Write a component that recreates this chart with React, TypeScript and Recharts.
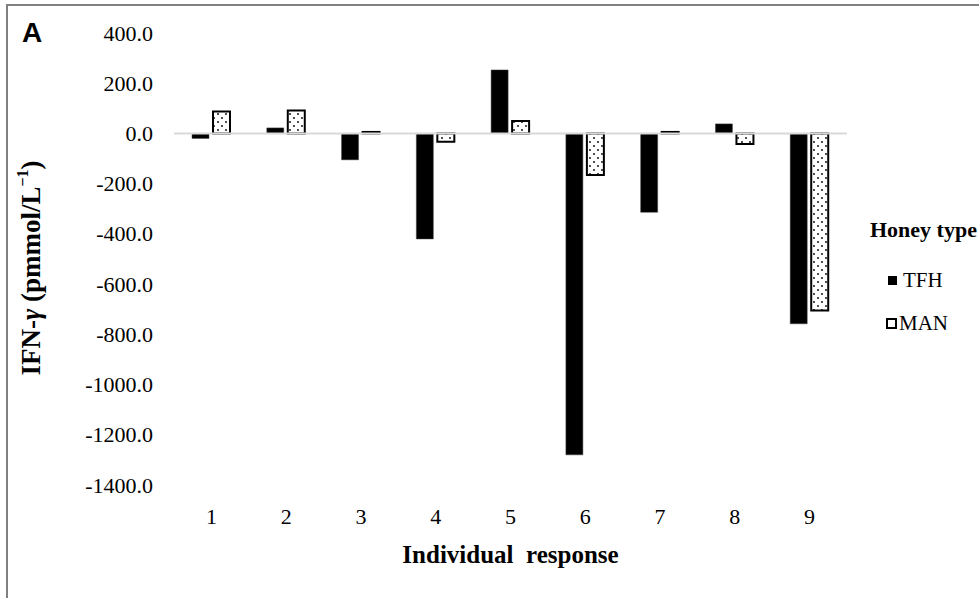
import { BarChart, Bar, XAxis, YAxis, ReferenceLine, Label } from 'recharts';

// Individual responses (participant 1..9), IFN-γ change per honey type
const participants = ['1', '2', '3', '4', '5', '6', '7', '8', '9'];
const tfhValues = [-20, 22, -105, -420, 253, -1280, -314, 38, -758];
const manValues = [87, 91, 6, -33, 50, -165, 6, -42, -705];
const yTicks = [400, 200, 0, -200, -400, -600, -800, -1000, -1200, -1400];

const SERIF = '"Liberation Serif", "Times New Roman", serif';

const data = participants.map((p, i) => ({ p, TFH: tfhValues[i], MAN: manValues[i] }));

// tick renderers so the serif font is really applied
function YTick({ x, y, payload }: any) {
  return (
    <text x={x} y={y} textAnchor="end" dominantBaseline="central" fontFamily={SERIF} fontSize={22} fill="#000">
      {Number(payload.value).toFixed(1)}
    </text>
  );
}

function XTick({ x, y, payload }: any) {
  return (
    <text x={x} y={y} dy="0.71em" textAnchor="middle" fontFamily={SERIF} fontSize={22} fill="#000">
      {payload.value}
    </text>
  );
}

// Excel style legend: bold title then two small swatches
function HoneyLegend() {
  return (
    <div style={{ position: 'absolute', left: 868, top: 217, fontFamily: SERIF, color: '#000' }}>
      <div style={{ fontWeight: 'bold', fontSize: 22, marginLeft: 2 }}>Honey type</div>
      <div style={{ display: 'flex', alignItems: 'center', marginTop: 25, marginLeft: 20, fontSize: 21 }}>
        <span style={{ width: 9, height: 9, background: '#000', display: 'inline-block', marginRight: 6 }} />
        TFH
      </div>
      <div style={{ display: 'flex', alignItems: 'center', marginTop: 18, marginLeft: 18, fontSize: 21 }}>
        <span
          style={{
            width: 7,
            height: 7,
            border: '2px solid #000',
            background: '#fff',
            display: 'inline-block',
            marginRight: 2,
          }}
        />
        MAN
      </div>
    </div>
  );
}

export default function App() {
  return (
    <div
      style={{
        position: 'absolute',
        left: 0,
        top: 0,
        width: 979,
        height: 598,
        overflow: 'hidden',
        background: '#fff',
        fontFamily: SERIF,
      }}
    >
      {/* panel frame, only top and left edges are visible in the crop */}
      <div
        style={{
          position: 'absolute',
          left: 6,
          top: 4,
          width: 1000,
          height: 620,
          borderTop: '2px solid #808080',
          borderLeft: '2px solid #808080',
        }}
      />
      <div
        style={{
          position: 'absolute',
          left: 22,
          top: 17,
          fontFamily: '"Liberation Sans", Arial, sans-serif',
          fontWeight: 900,
          fontSize: 28,
        }}
      >
        A
      </div>
      <BarChart
        width={979}
        height={598}
        data={data}
        margin={{ top: 33, right: 132, bottom: 83, left: 0 }}
        barSize={17}
        barGap={4}
        style={{ position: 'absolute', left: 0, top: 0 }}
      >
        <defs>
          <pattern id="dots" width="8" height="8" patternUnits="userSpaceOnUse">
            <rect width="8" height="8" fill="#fff" />
            <circle cx="2" cy="2" r="0.9" fill="#000" />
            <circle cx="6" cy="6" r="0.9" fill="#000" />
          </pattern>
        </defs>
        <XAxis dataKey="p" axisLine={false} tickLine={false} tickMargin={17} tick={<XTick />}>
          <Label
            value={'Individual\u00A0 response'}
            position="bottom"
            offset={30}
            style={{ fontFamily: SERIF, fontSize: 25, fontWeight: 'bold', fill: '#000' }}
          />
        </XAxis>
        <YAxis
          width={174}
          domain={[-1400, 400]}
          ticks={yTicks}
          interval={0}
          axisLine={false}
          tickLine={false}
          tickMargin={15}
          tick={<YTick />}
        >
          <Label
            content={() => (
              <text
                x={31}
                y={268}
                transform="rotate(-90 31 268)"
                textAnchor="middle"
                dominantBaseline="central"
                fontFamily={SERIF}
                fontWeight="bold"
                fontSize={27}
                fill="#000"
              >
                IFN-<tspan fontStyle="italic">γ</tspan> (pmmol/L
                <tspan dy={-9} fontSize={16}>−1</tspan>
                <tspan dy={9}>)</tspan>
              </text>
            )}
          />
        </YAxis>
        <ReferenceLine y={0} stroke="#d9d9d9" strokeWidth={2} />
        <Bar dataKey="TFH" name="TFH" fill="#000" stroke="#444" strokeWidth={0.5} isAnimationActive={false} />
        <Bar dataKey="MAN" name="MAN" fill="url(#dots)" stroke="#000" strokeWidth={2} isAnimationActive={false} />
      </BarChart>
      <HoneyLegend />
    </div>
  );
}
